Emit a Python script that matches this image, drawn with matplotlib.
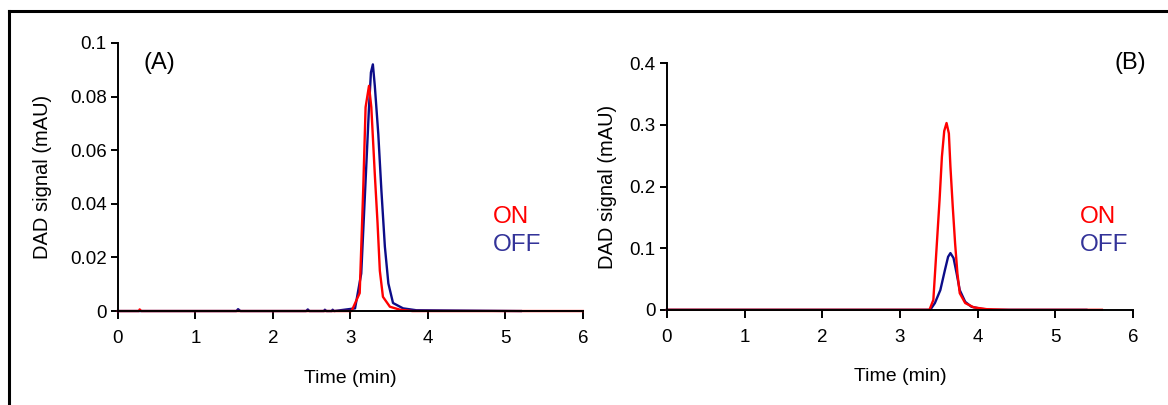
import matplotlib.pyplot as plt
from matplotlib.lines import Line2D

plt.rcParams['font.family'] = ['Liberation Sans', 'DejaVu Sans']

RED = '#ff0000'
NAVY = '#0c0c88'
OFF_TEXT = '#333399'

# (A) retention time (min) and DAD signal (mAU)
a_on_t = [0.0, 0.27, 0.28, 0.30, 3.015, 3.12, 3.165, 3.196, 3.24, 3.27, 3.315, 3.35,
          3.38, 3.42, 3.51, 3.64, 3.8, 6.0]
a_on_y = [0.0, 0.0, 0.0006, 0.0, 0.0, 0.0067, 0.045, 0.076, 0.084, 0.076, 0.051, 0.033,
          0.015, 0.0053, 0.0016, 0.0005, 0.0, 0.0]
a_off_t = [0.0, 1.53, 1.55, 1.58, 2.43, 2.45, 2.47, 2.66, 2.67, 2.69, 2.76, 2.77, 2.79,
           3.06, 3.14, 3.20, 3.24, 3.265, 3.29, 3.315, 3.36, 3.40, 3.445, 3.49, 3.55,
           3.68, 3.85, 5.2]
a_off_y = [0.0, 0.0, 0.0007, 0.0, 0.0, 0.0006, 0.0, 0.0, 0.0005, 0.0, 0.0, 0.0005, 0.0,
           0.001, 0.014, 0.051, 0.076, 0.089, 0.092, 0.084, 0.066, 0.045, 0.024, 0.0103,
           0.003, 0.001, 0.0003, 0.0]

# (B)
b_on_t = [0.0, 3.38, 3.43, 3.47, 3.51, 3.54, 3.57, 3.60, 3.63, 3.65, 3.68, 3.71, 3.74,
          3.77, 3.84, 3.95, 4.12, 4.4, 5.6]
b_on_y = [0.0, 0.0, 0.016, 0.097, 0.178, 0.248, 0.29, 0.303, 0.286, 0.232, 0.167, 0.108,
          0.059, 0.027, 0.011, 0.004, 0.001, 0.0, 0.0]
b_off_t = [0.0, 3.39, 3.45, 3.52, 3.58, 3.62, 3.65, 3.69, 3.73, 3.77, 3.84, 3.92, 4.05,
           4.2, 5.4]
b_off_y = [0.0, 0.0, 0.011, 0.032, 0.065, 0.086, 0.092, 0.084, 0.059, 0.032, 0.013,
           0.005, 0.0015, 0.0, 0.0]

fig = plt.figure(figsize=(11.68, 4.05), dpi=100)
ax1 = fig.add_axes([0.101, 0.232, 0.398, 0.662])
ax2 = fig.add_axes([0.571, 0.235, 0.399, 0.609])

# outer frame (top and left edges visible)
fig.add_artist(Line2D([9 / 1168, 9 / 1168], [0, 1 - 11 / 405], transform=fig.transFigure,
                      color='black', lw=2.2))
fig.add_artist(Line2D([9 / 1168, 1.0], [1 - 11 / 405, 1 - 11 / 405], transform=fig.transFigure,
                      color='black', lw=2.2))


def style_axis(ax, ymax, ystep, yfmt, xlab_y, ylab_x):
    for side in ['top', 'right']:
        ax.spines[side].set_visible(False)
    for side in ['left', 'bottom']:
        ax.spines[side].set_linewidth(1.4)
    ax.set_xlim(0, 6)
    ax.set_ylim(0, ymax)
    ax.set_xticks(range(0, 7))
    yt = [i * ystep for i in range(int(round(ymax / ystep)) + 1)]
    ax.set_yticks(yt)
    ax.set_yticklabels([yfmt(v) for v in yt])
    ax.tick_params(axis='both', labelsize=13.5, width=1.4, direction='out')
    ax.tick_params(axis='x', length=6, pad=8)
    ax.tick_params(axis='y', length=5, pad=3)
    ax.set_xlabel('Time (min)', fontsize=14, va='center')
    ax.set_ylabel('DAD signal (mAU)', fontsize=14.5, va='center')
    ax.xaxis.set_label_coords(0.5, xlab_y)
    ax.yaxis.set_label_coords(ylab_x, 0.5)


def fmt_a(v):
    return '0' if v == 0 else ('0.1' if abs(v - 0.1) < 1e-9 else f'{v:.2f}')


def fmt_b(v):
    return '0' if v == 0 else f'{v:.1f}'


ax1.plot(a_off_t, a_off_y, color=NAVY, lw=1.7, clip_on=False)
ax1.plot(a_on_t, a_on_y, color=RED, lw=1.7, clip_on=False)
style_axis(ax1, 0.1, 0.02, fmt_a, -0.25, -0.163)
ax1.text(0.53, 0.0925, '(A)', fontsize=17, va='center', ha='center')
ax1.text(4.84, 0.035, 'ON', color=RED, fontsize=17.5, va='center', ha='left')
ax1.text(4.84, 0.0246, 'OFF', color=OFF_TEXT, fontsize=17.5, va='center', ha='left')

ax2.plot(b_off_t, b_off_y, color=NAVY, lw=1.7, clip_on=False)
ax2.plot(b_on_t, b_on_y, color=RED, lw=1.7, clip_on=False)
style_axis(ax2, 0.4, 0.1, fmt_b, -0.27, -0.127)
ax2.text(5.97, 0.4, '(B)', fontsize=17, va='center', ha='center')
ax2.text(5.32, 0.151, 'ON', color=RED, fontsize=17.5, va='center', ha='left')
ax2.text(5.32, 0.105, 'OFF', color=OFF_TEXT, fontsize=17.5, va='center', ha='left')

fig.savefig('out.png', dpi=100)
